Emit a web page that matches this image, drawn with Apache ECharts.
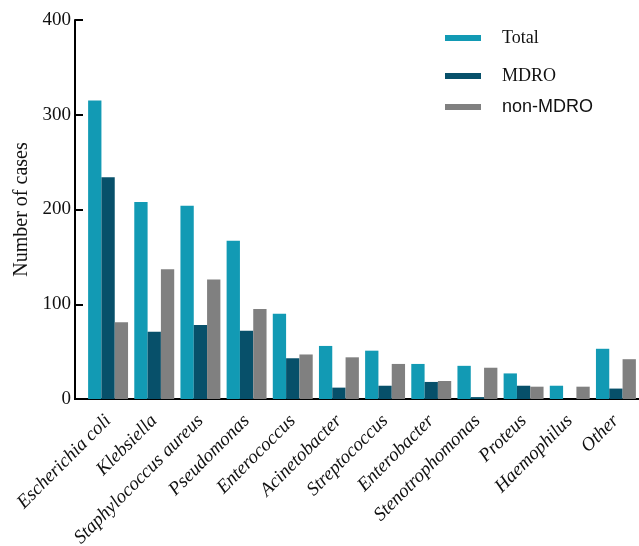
<!DOCTYPE html>
<html>
<head>
<meta charset="utf-8">
<script src="https://cdn.jsdelivr.net/npm/echarts@6/dist/echarts.min.js"></script>
<style>
  html, body { margin: 0; padding: 0; background: #fff; }
  #chart { width: 639px; height: 546px; }
</style>
</head>
<body>
<div id="chart"></div>
<script>
// Organisms (category axis)
const organisms = [
  'Escherichia coli', 'Klebsiella', 'Staphylococcus aureus', 'Pseudomonas',
  'Enterococcus', 'Acinetobacter', 'Streptococcus', 'Enterobacter',
  'Stenotrophomonas', 'Proteus', 'Haemophilus', 'Other'
];
// Case counts per organism
const totalCases   = [315, 208, 204, 167, 90, 56, 51, 37, 35, 27, 14, 53];
const mdroCases    = [234, 71, 78, 72, 43, 12, 14, 18, 2, 14, 0, 11];
const nonMdroCases = [81, 137, 126, 95, 47, 44, 37, 19, 33, 13, 13, 42];
// Value axis ticks
const yTicks = [0, 100, 200, 300, 400];

const serif = 'Liberation Serif, Times New Roman, serif';
const sans = 'Liberation Sans, Arial, sans-serif';
const colors = { total: '#129ab4', mdro: '#07506a', non: '#808080' };

const chart = echarts.init(document.getElementById('chart'));

function legendBlock(name, top, family) {
  return {
    top: top, left: 440,
    itemWidth: 36, itemHeight: 6, icon: 'rect',
    data: [name], selectedMode: false,
    textStyle: { fontFamily: family, fontSize: 18, color: '#111', padding: [0, 0, 0, 16], lineHeight: 20 }
  };
}

chart.setOption({
  animation: false,
  grid: { left: 85, top: 20, width: 554, bottom: 147, containLabel: false, outerBoundsMode: 'none' },
  legend: [
    legendBlock('Total', 23, serif),
    legendBlock('MDRO', 61, serif),
    legendBlock('non-MDRO', 92, sans)
  ],
  xAxis: {
    type: 'category',
    data: organisms,
    axisLine: { lineStyle: { color: '#000', width: 2 } },
    axisTick: { alignWithLabel: true, length: 8, lineStyle: { color: '#000', width: 2 } },
    axisLabel: {
      interval: 0, rotate: 45, margin: 19,
      fontFamily: serif, fontStyle: 'italic', fontSize: 19, color: '#111'
    }
  },
  yAxis: {
    type: 'value',
    min: yTicks[0], max: yTicks[yTicks.length - 1], interval: 100,
    offset: 10,
    name: 'Number of cases',
    nameLocation: 'middle',
    nameGap: 42,
    nameTextStyle: { fontFamily: serif, fontSize: 20, color: '#111' },
    axisLine: { show: true, lineStyle: { color: '#000', width: 2 } },
    axisTick: { show: true, inside: true, length: 8, lineStyle: { color: '#000', width: 2 } },
    axisLabel: { margin: 4, fontFamily: serif, fontSize: 19, color: '#111' },
    splitLine: { show: false }
  },
  series: [
    { name: 'Total', type: 'bar', data: totalCases, itemStyle: { color: colors.total },
      barGap: '0%', barCategoryGap: '13.5%' },
    { name: 'MDRO', type: 'bar', data: mdroCases, itemStyle: { color: colors.mdro } },
    { name: 'non-MDRO', type: 'bar', data: nonMdroCases, itemStyle: { color: colors.non } }
  ]
});

// Extend the baseline left to meet the offset value axis
const y0 = chart.convertToPixel({ yAxisIndex: 0 }, 0);
const gridLeft = 85, axisX = gridLeft - 10;
chart.setOption({
  graphic: [{
    type: 'line', silent: true,
    shape: { x1: axisX - 1, y1: y0, x2: gridLeft, y2: y0 },
    style: { stroke: '#000', lineWidth: 2 }
  }]
});
</script>
</body>
</html>
